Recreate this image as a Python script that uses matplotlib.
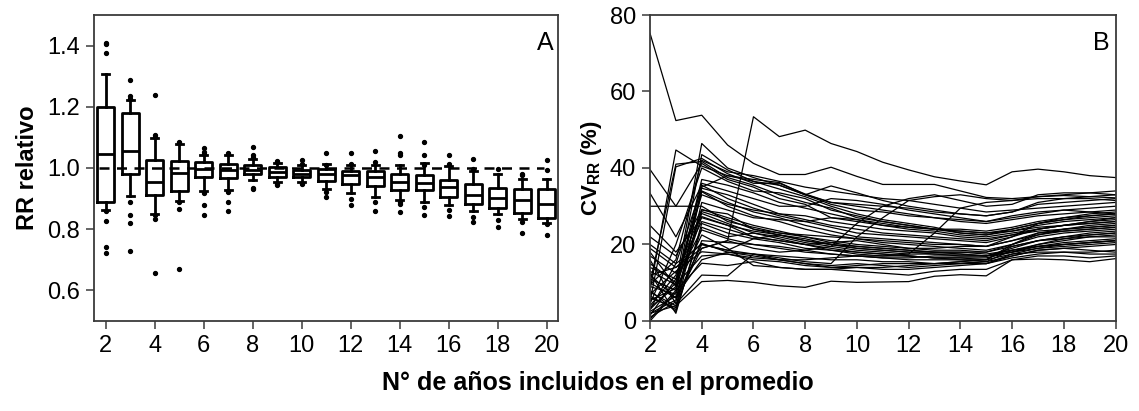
import matplotlib
matplotlib.use("Agg")
import matplotlib.pyplot as plt

plt.rcParams["font.family"] = ["Liberation Sans", "DejaVu Sans"]
plt.rcParams["mathtext.fontset"] = "custom"
plt.rcParams["mathtext.rm"] = "Liberation Sans"
plt.rcParams["mathtext.bf"] = "Liberation Sans:bold"

# Panel A: box plot statistics of relative RR by number of years
years = list(range(2, 21))
box_q1 = [0.89, 0.979, 0.913, 0.925, 0.969, 0.967, 0.979, 0.971, 0.971, 0.956,
          0.949, 0.941, 0.929, 0.927, 0.905, 0.881, 0.870, 0.853, 0.838]
box_med = [1.046, 1.056, 0.954, 0.984, 0.998, 0.995, 0.995, 0.987, 0.981, 0.981,
           0.976, 0.971, 0.954, 0.952, 0.938, 0.911, 0.902, 0.896, 0.883]
box_q3 = [1.20, 1.18, 1.025, 1.024, 1.019, 1.013, 1.010, 1.003, 0.995, 0.998,
          0.990, 0.989, 0.981, 0.978, 0.960, 0.947, 0.935, 0.932, 0.930]
whisk_lo = [0.862, 0.907, 0.851, 0.891, 0.924, 0.929, 0.962, 0.954, 0.954, 0.932,
            0.919, 0.905, 0.894, 0.889, 0.878, 0.859, 0.851, 0.834, 0.821]
whisk_hi = [1.306, 1.221, 1.099, 1.077, 1.041, 1.041, 1.030, 1.017, 1.009, 1.014,
            1.011, 1.011, 1.011, 1.017, 1.005, 0.990, 0.981, 0.963, 0.965]
outliers = [
    [1.405, 1.41, 1.377, 0.858, 0.827, 0.741, 0.723],
    [1.286, 1.235, 1.227, 1.225, 0.889, 0.845, 0.819, 0.729],
    [1.237, 1.109, 1.10, 0.845, 0.834, 0.658],
    [1.084, 1.082, 0.889, 0.867, 0.670],
    [1.065, 1.052, 1.045, 0.918, 0.880, 0.846],
    [1.050, 1.046, 0.924, 0.920, 0.890, 0.859],
    [1.068, 1.044, 1.036, 0.936, 0.930],
    [1.022, 1.020, 0.948, 0.943],
    [1.027, 1.014, 0.950, 0.949],
    [1.050, 1.011, 0.921, 0.905],
    [1.048, 1.014, 0.898, 0.878],
    [1.056, 1.020, 0.889, 0.858],
    [1.104, 1.049, 1.041, 0.889, 0.881, 0.856],
    [1.085, 1.041, 1.011, 0.872, 0.848],
    [1.041, 1.014, 0.862, 0.842],
    [1.028, 0.998, 0.840, 0.823],
    [0.998, 0.829, 0.807],
    [0.979, 0.976, 0.823, 0.787],
    [1.025, 0.992, 0.818, 0.780],
]

# Panel B: CV of RR (%) per series, x = 2..20
cv_series = [
    [75.2, 52.4, 53.8, 46.0, 41.2, 38.3, 38.3, 40.2, 37.8, 35.7, 35.7, 35.7, 34.0, 32.3, 32.0, 32.5, 32.8, 32.5, 32.2],
    [12.0, 14.0, 19.0, 21.0, 53.4, 48.2, 49.9, 46.4, 44.3, 41.5, 39.5, 37.7, 36.6, 35.6, 39.0, 39.7, 39.0, 38.0, 37.5],
    [2.0, 4.0, 10.3, 10.6, 10.1, 9.2, 8.8, 10.4, 10.1, 10.2, 10.3, 11.7, 12.1, 11.8, 16.0, 16.2, 16.0, 15.5, 16.3],
    [8.0, 44.7, 40.5, 38.0, 37.0, 36.2, 33.0, 30.5, 29.0, 28.5, 27.5, 27.0, 26.5, 26.0, 27.5, 28.5, 29.0, 29.5, 30.0],
    [3.0, 10.0, 46.4, 40.0, 37.5, 35.5, 33.0, 35.3, 33.5, 31.5, 30.0, 29.0, 28.0, 27.5, 28.5, 30.5, 31.0, 31.5, 32.0],
    [5.0, 40.3, 42.5, 38.5, 36.0, 36.0, 33.2, 31.0, 30.0, 29.0, 28.0, 27.0, 26.0, 25.5, 26.5, 27.5, 28.0, 28.5, 29.0],
    [10.0, 41.0, 41.7, 37.5, 35.5, 33.0, 31.0, 29.5, 27.0, 26.0, 25.0, 24.0, 23.5, 23.0, 23.5, 24.5, 25.0, 26.0, 26.5],
    [0.5, 8.0, 43.5, 39.5, 36.5, 34.5, 32.5, 30.0, 28.0, 26.5, 25.5, 24.5, 23.0, 22.5, 24.0, 25.5, 26.5, 27.5, 28.0],
    [39.6, 30.0, 41.2, 37.0, 35.0, 32.0, 30.5, 27.0, 26.0, 25.0, 24.0, 23.5, 22.5, 22.0, 23.0, 24.0, 25.0, 25.5, 26.0],
    [30.0, 30.0, 30.0, 26.0, 24.5, 23.0, 22.0, 20.5, 19.5, 19.0, 18.5, 18.0, 18.0, 17.5, 18.5, 19.5, 20.0, 20.5, 21.0],
    [33.4, 22.0, 35.5, 32.0, 29.5, 27.5, 26.0, 24.5, 23.0, 22.5, 22.0, 21.5, 21.0, 20.5, 22.0, 24.0, 25.0, 25.5, 26.0],
    [20.0, 15.0, 34.7, 33.0, 30.5, 28.0, 26.5, 25.0, 24.0, 23.0, 22.5, 22.0, 21.5, 21.0, 22.5, 24.0, 25.0, 26.0, 27.0],
    [1.0, 5.0, 34.0, 31.0, 28.5, 27.0, 25.0, 23.5, 22.0, 21.5, 21.0, 20.5, 20.0, 19.5, 21.0, 22.5, 23.5, 24.0, 24.5],
    [15.0, 10.0, 33.8, 30.0, 27.5, 26.0, 24.0, 22.5, 21.5, 20.5, 20.0, 19.5, 19.0, 18.5, 20.0, 22.0, 23.0, 23.5, 24.0],
    [6.0, 3.5, 35.0, 38.0, 36.5, 35.5, 33.0, 31.0, 30.5, 30.0, 29.5, 28.5, 28.0, 27.5, 28.5, 31.0, 32.0, 32.5, 33.0],
    [12.0, 6.0, 29.2, 27.0, 25.0, 23.5, 22.0, 21.0, 20.0, 19.5, 19.0, 18.5, 18.5, 18.0, 20.0, 22.5, 24.0, 25.0, 25.5],
    [4.0, 12.0, 28.6, 26.5, 24.0, 22.5, 21.5, 20.0, 19.0, 18.5, 18.0, 18.0, 17.5, 17.0, 19.0, 21.0, 22.0, 23.0, 23.5],
    [18.0, 9.0, 28.1, 25.5, 23.0, 22.0, 20.5, 19.5, 18.5, 18.0, 17.5, 17.5, 17.0, 17.0, 18.5, 20.0, 21.0, 22.0, 22.5],
    [9.0, 7.0, 27.3, 25.0, 22.0, 21.0, 20.0, 19.0, 18.0, 17.5, 17.0, 16.5, 16.5, 16.5, 18.0, 19.5, 20.5, 21.0, 21.5],
    [14.0, 11.0, 23.8, 21.5, 20.0, 19.5, 18.5, 17.5, 17.0, 16.5, 16.0, 16.0, 16.0, 15.5, 17.0, 18.5, 19.0, 19.5, 20.0],
    [19.0, 14.0, 20.3, 18.0, 17.5, 17.0, 16.5, 16.0, 16.0, 15.5, 15.5, 15.0, 15.0, 15.0, 16.5, 17.5, 18.0, 18.0, 18.5],
    [7.0, 13.0, 18.1, 17.5, 16.0, 15.5, 14.5, 14.0, 14.0, 13.5, 13.5, 14.0, 14.5, 15.0, 17.5, 18.0, 18.0, 17.5, 17.5],
    [11.0, 8.0, 15.1, 14.5, 15.5, 14.0, 13.5, 13.5, 13.0, 12.5, 12.0, 13.0, 13.5, 13.5, 16.0, 17.0, 17.0, 16.5, 17.0],
    [16.0, 4.5, 12.0, 11.8, 17.5, 16.0, 15.0, 14.5, 15.0, 14.5, 14.0, 14.5, 15.0, 15.5, 18.5, 19.5, 20.0, 20.5, 21.0],
    [3.0, 15.0, 20.0, 18.5, 21.5, 22.5, 21.0, 20.0, 19.5, 19.0, 18.5, 18.0, 18.0, 18.0, 19.5, 21.0, 22.0, 22.5, 23.0],
    [8.0, 2.5, 24.5, 22.0, 23.0, 21.5, 20.0, 18.5, 17.5, 17.0, 17.0, 16.5, 16.5, 16.0, 17.5, 19.0, 20.0, 20.5, 21.0],
    [10.0, 6.0, 20.0, 18.5, 17.5, 16.5, 15.5, 15.0, 22.0, 27.0, 31.5, 32.5, 33.0, 32.0, 31.5, 32.5, 33.0, 33.5, 34.0],
    [13.0, 9.5, 17.0, 17.5, 16.5, 16.0, 16.0, 16.5, 17.0, 17.0, 17.5, 23.0, 29.5, 31.0, 31.5, 32.0, 32.0, 32.0, 31.5],
    [2.0, 5.5, 19.0, 21.0, 19.0, 18.0, 18.5, 19.5, 25.5, 30.0, 32.0, 33.0, 31.5, 30.0, 30.5, 33.0, 33.5, 33.5, 33.0],
    [17.0, 12.5, 26.0, 24.0, 22.0, 21.0, 20.0, 20.5, 21.0, 20.0, 19.0, 19.0, 19.5, 19.5, 22.0, 25.5, 27.0, 28.0, 28.5],
    [0.0, 7.5, 36.0, 34.0, 32.0, 30.0, 30.0, 32.0, 31.5, 30.5, 29.0, 28.0, 27.0, 26.0, 27.0, 28.0, 29.0, 28.5, 28.0],
    [6.5, 3.0, 31.0, 29.0, 27.0, 26.5, 26.0, 27.0, 26.5, 25.0, 24.5, 24.0, 23.5, 23.0, 24.0, 25.5, 26.5, 27.0, 27.5],
    [22.0, 17.0, 29.0, 28.0, 24.0, 23.0, 22.5, 22.0, 21.5, 21.0, 20.5, 20.0, 20.0, 19.5, 21.0, 23.0, 24.0, 24.5, 25.0],
    [4.5, 20.0, 40.0, 36.5, 34.0, 33.5, 32.0, 29.0, 27.5, 26.0, 25.0, 24.0, 23.0, 22.5, 23.5, 25.0, 26.0, 26.5, 27.0],
    [2.5, 6.5, 16.0, 18.0, 17.0, 16.0, 15.0, 14.0, 14.5, 15.0, 15.0, 15.0, 15.5, 16.0, 19.5, 21.0, 21.5, 22.0, 22.0],
    [7.5, 4.0, 21.0, 20.5, 20.0, 19.0, 18.0, 17.5, 17.0, 16.5, 16.5, 17.0, 17.0, 17.0, 18.0, 19.0, 19.5, 20.0, 20.5],
    [25.0, 18.0, 27.0, 25.0, 23.5, 22.5, 21.0, 20.0, 19.0, 18.5, 18.0, 17.5, 17.5, 17.0, 18.0, 20.0, 21.5, 22.5, 23.0],
    [1.5, 11.0, 33.0, 30.5, 29.0, 28.0, 27.5, 26.0, 25.0, 24.0, 23.5, 23.0, 22.0, 21.5, 22.5, 23.5, 24.0, 24.5, 25.0],
    [9.5, 16.0, 42.0, 39.0, 38.0, 36.5, 35.0, 34.0, 33.0, 32.0, 31.5, 30.5, 29.5, 28.5, 29.0, 29.5, 30.0, 30.5, 31.0],
    [5.5, 8.5, 22.5, 19.0, 14.5, 14.0, 13.5, 13.5, 14.0, 14.0, 14.5, 15.0, 15.5, 15.0, 17.0, 18.5, 19.0, 18.5, 18.0],
    [12.5, 2.0, 25.5, 23.0, 21.5, 20.5, 19.0, 18.5, 18.0, 17.5, 17.0, 16.5, 16.0, 16.0, 20.0, 23.0, 23.5, 24.0, 24.5],
    [3.5, 9.0, 37.0, 35.5, 33.5, 31.0, 29.5, 28.0, 26.5, 25.5, 24.5, 24.0, 24.0, 23.5, 24.5, 26.0, 27.0, 27.5, 28.0],
]

fig = plt.figure(figsize=(11.39, 4.11), dpi=100)
ax_a = fig.add_axes([0.0825, 0.219, 0.4074, 0.7445])
ax_b = fig.add_axes([0.5707, 0.219, 0.4087, 0.7445])

spine_col = "#3a3a3a"
for ax in (ax_a, ax_b):
    for s in ax.spines.values():
        s.set_color(spine_col)
        s.set_linewidth(1.3)
    ax.tick_params(axis="both", labelsize=17, length=6, width=1.1,
                   color=spine_col, pad=4)

# Panel A
stats = []
for i in range(len(years)):
    stats.append({
        "med": box_med[i], "q1": box_q1[i], "q3": box_q3[i],
        "whislo": whisk_lo[i], "whishi": whisk_hi[i], "fliers": outliers[i],
    })
lw = 2.0
ax_a.axhline(1.0, xmin=0.01, xmax=0.97, color="black", lw=1.8,
             dashes=(4, 3), zorder=1)
ax_a.bxp(stats, positions=years, widths=0.7, patch_artist=False,
         boxprops=dict(color="black", lw=lw),
         medianprops=dict(color="black", lw=lw),
         whiskerprops=dict(color="black", lw=lw),
         capprops=dict(color="black", lw=lw),
         capwidths=0.3,
         flierprops=dict(marker="o", markersize=2.8, markerfacecolor="black",
                         markeredgecolor="black"))
ax_a.set_xlim(1.52, 20.46)
ax_a.set_ylim(0.5, 1.5)
ax_a.set_xticks(range(2, 21, 2))
ax_a.set_xticklabels([str(v) for v in range(2, 21, 2)])
ax_a.set_yticks([0.6, 0.8, 1.0, 1.2, 1.4])
ax_a.set_yticklabels(["0.6", "0.8", "1.0", "1.2", "1.4"])
ax_a.set_ylabel("RR relativo", fontsize=17, fontweight="bold", labelpad=6)
ax_a.text(0.99, 0.885, "A", transform=ax_a.transAxes, ha="right",
          va="baseline", fontsize=18)

# Panel B
for series in cv_series:
    ax_b.plot(years, series, color="black", lw=0.9)
ax_b.set_xlim(2, 20)
ax_b.set_ylim(0, 80)
ax_b.set_xticks(range(2, 21, 2))
ax_b.set_yticks([0, 20, 40, 60, 80])
ax_b.set_ylabel(r"CV$_{\mathbf{RR}}$ (%)", fontsize=16, fontweight="bold",
                labelpad=4)
ax_b.text(0.988, 0.885, "B", transform=ax_b.transAxes, ha="right",
          va="baseline", fontsize=18)

fig.text(0.525, 0.068, "N° de años incluidos en el promedio", ha="center",
         va="center", fontsize=18, fontweight="bold")

fig.savefig("out.png", dpi=100)
